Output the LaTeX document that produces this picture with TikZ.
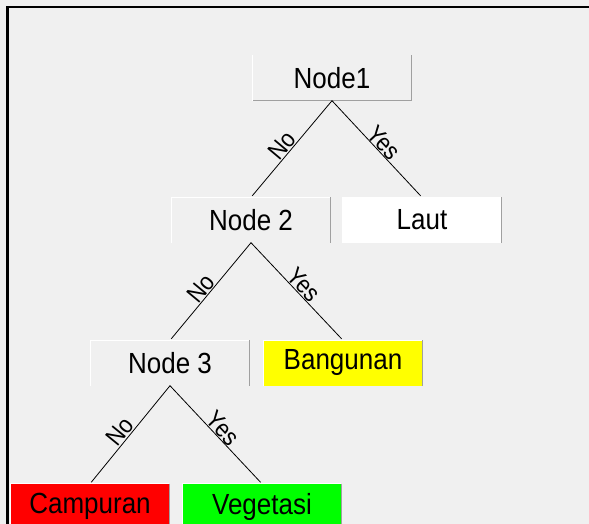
\documentclass[tikz,border=0pt]{standalone}
\usepackage{fontspec}
\setmainfont{Liberation Sans}
\definecolor{bg}{RGB}{240,240,240}
\definecolor{edgedark}{RGB}{160,160,160}
\definecolor{red0}{RGB}{255,0,0}
\definecolor{yel0}{RGB}{255,255,0}
\definecolor{grn0}{RGB}{0,255,0}
\tikzset{
  treebox/.style={rectangle, minimum width=158pt, minimum height=45pt, inner sep=0pt,
    font=\fontsize{26}{26}\selectfont, fill=bg,
    append after command={
      \pgfextra{\draw[white, line width=1pt] (\tikzlastnode.south west) -- (\tikzlastnode.north west) -- (\tikzlastnode.north east);
      \draw[edgedark, line width=1pt] (\tikzlastnode.north east) -- (\tikzlastnode.south east) -- (\tikzlastnode.south west);}
    }},
  conn/.style={draw=black, line width=0.8pt, shorten >=2pt},
  lbl/.style={sloped, font=\fontsize{22}{22}\selectfont, inner sep=0.5pt}
}
\newcommand{\tx}[1]{\scalebox{1}[1.12]{#1}}
\begin{document}
\begin{tikzpicture}[x=1pt,y=-1pt]
\fill[bg] (0,0) rectangle (589,524);
\useasboundingbox (0,0) rectangle (589,524);
\draw[black, line width=2.2pt] (7.5,524) -- (7.5,7) -- (589,7);

\node[treebox] (n1) at (332,78) {\tx{Node1}};
\node[treebox] (n2) at (251,220) {\tx{Node 2}};
\node[treebox, fill=white] (laut) at (422,220) {\tx{Laut}};
\node[treebox] (n3) at (170,363) {\tx{Node 3}};
\node[treebox, fill=yel0] (bang) at (343,363) {\tx{Bangunan}};
\node[treebox, fill=red0] (camp) at (90,506.5) {\tx{Campuran}};
\node[treebox, fill=grn0] (veg) at (262,506.5) {\tx{Vegetasi}};

\draw[conn] (n1.south) -- node[lbl, pos=0.53, above] {\tx{No}} (n2.north);
\draw[conn] (n1.south) -- node[lbl, pos=0.5, above] {\tx{Yes}} (laut.north);
\draw[conn] (n2.south) -- node[lbl, pos=0.53, above] {\tx{No}} (n3.north);
\draw[conn] (n2.south) -- node[lbl, pos=0.5, above] {\tx{Yes}} (bang.north);
\draw[conn] (n3.south) -- node[lbl, pos=0.53, above] {\tx{No}} (camp.north);
\draw[conn] (n3.south) -- node[lbl, pos=0.5, above] {\tx{Yes}} (veg.north);
\end{tikzpicture}
\end{document}
